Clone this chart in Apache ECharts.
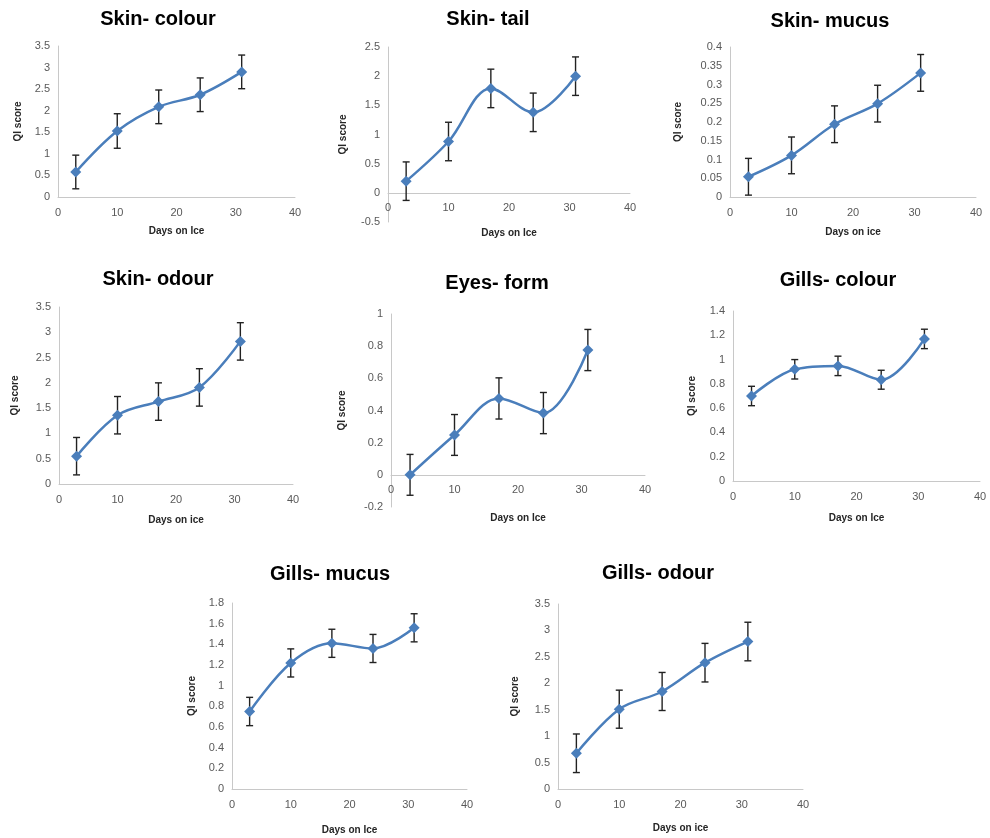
<!DOCTYPE html>
<html><head><meta charset="utf-8">
<script src="https://cdn.jsdelivr.net/npm/echarts@6/dist/echarts.min.js"></script>
<style>html,body{margin:0;padding:0;background:#fff}#c{width:990px;height:838px}</style>
</head><body><div id="c"></div>
<script>
const days = [3, 10, 17, 24, 31];

const skinColour = [0.58, 1.53, 2.09, 2.37, 2.90];
const skinColourErr = [0.39, 0.40, 0.39, 0.39, 0.39];
const skinTail = [0.20, 0.88, 1.79, 1.38, 2.00];
const skinTailErr = [0.33, 0.33, 0.33, 0.33, 0.33];
const skinMucus = [0.054, 0.111, 0.194, 0.249, 0.331];
const skinMucusErr = [0.049, 0.049, 0.049, 0.049, 0.049];
const skinOdour = [0.55, 1.36, 1.63, 1.91, 2.82];
const skinOdourErr = [0.37, 0.37, 0.37, 0.37, 0.37];
const eyesForm = [0.00, 0.248, 0.475, 0.384, 0.776];
const eyesFormErr = [0.127, 0.127, 0.128, 0.128, 0.128];
const gillsColour = [0.70, 0.92, 0.948, 0.834, 1.17];
const gillsColourErr = [0.08, 0.08, 0.08, 0.078, 0.08];
const gillsMucus = [0.75, 1.22, 1.41, 1.36, 1.56];
const gillsMucusErr = [0.137, 0.136, 0.136, 0.136, 0.136];
const gillsOdour = [0.676, 1.51, 1.845, 2.39, 2.79];
const gillsOdourErr = [0.365, 0.36, 0.36, 0.365, 0.365];

const titles = ['Skin- colour', 'Skin- tail', 'Skin- mucus', 'Skin- odour', 'Eyes- form', 'Gills- colour', 'Gills- mucus', 'Gills- odour'];
const xNames = ['Days on Ice', 'Days on Ice', 'Days on ice', 'Days on ice', 'Days on Ice', 'Days on Ice', 'Days on Ice', 'Days on ice'];
const yName = 'QI score';
const yMins = [0, -0.5, 0, 0, -0.2, 0, 0, 0];
const yMaxs = [3.5, 2.5, 0.4, 3.5, 1, 1.4, 1.8, 3.5];
const yIntervals = [0.5, 0.5, 0.05, 0.5, 0.2, 0.2, 0.2, 0.5];
const xMin = 0, xMax = 40, xInterval = 10;

const values = [skinColour, skinTail, skinMucus, skinOdour, eyesForm, gillsColour, gillsMucus, gillsOdour];
const errors = [skinColourErr, skinTailErr, skinMucusErr, skinOdourErr, eyesFormErr, gillsColourErr, gillsMucusErr, gillsOdourErr];

// layout (pixels)
const grids = [
  {left: 58, top: 46, width: 237, height: 151},
  {left: 388, top: 47, width: 242, height: 175},
  {left: 730, top: 47, width: 246, height: 150},
  {left: 59, top: 307, width: 234, height: 177},
  {left: 391, top: 314, width: 254, height: 193},
  {left: 733, top: 311, width: 247, height: 170},
  {left: 232, top: 603, width: 235, height: 186},
  {left: 558, top: 604, width: 245, height: 185}
];
const titlePos = [[153, 4], [483, 4], [825, 6], [153, 264], [492, 268], [833, 265], [325, 559], [653, 558]];
const xNameGaps = [29, 35, 30, 31, 38, 32, 36, 34];
const yNameGaps = [35, 40, 47, 39, 44, 36, 35, 38];

const LINE = '#4a7ebb';
const AX = '#c8c8c8';
const TXT = '#595959';
const FONT = '"Liberation Sans", Arial, sans-serif';

// x axis sits at y = 0 (Excel style): shift whole axis up from grid bottom
function zeroOffset(i) {
  if (yMins[i] >= 0) return 0;
  return -grids[i].height * (0 - yMins[i]) / (yMaxs[i] - yMins[i]);
}

const option = {
  animation: false,
  backgroundColor: '#ffffff',
  title: titles.map((t, i) => ({
    text: t, left: titlePos[i][0], top: titlePos[i][1], textAlign: 'center',
    textStyle: {fontFamily: FONT, fontSize: 20, fontWeight: 'bold', color: '#000'}
  })),
  grid: grids.map(g => Object.assign({containLabel: false}, g)),
  xAxis: grids.map((g, i) => ({
    type: 'value', gridIndex: i, min: xMin, max: xMax, interval: xInterval,
    offset: zeroOffset(i),
    name: xNames[i], nameLocation: 'middle', nameGap: xNameGaps[i],
    nameTextStyle: {fontFamily: FONT, fontSize: 10, fontWeight: 'bold', color: '#262626'},
    axisLine: {show: true, onZero: false, lineStyle: {color: AX, width: 1}},
    axisTick: {show: false},
    splitLine: {show: false},
    axisLabel: {fontFamily: FONT, fontSize: 11, color: TXT, margin: 10}
  })),
  yAxis: grids.map((g, i) => ({
    type: 'value', gridIndex: i, min: yMins[i], max: yMaxs[i], interval: yIntervals[i],
    name: yName, nameLocation: 'middle', nameGap: yNameGaps[i], nameRotate: 90,
    nameTextStyle: {fontFamily: FONT, fontSize: 10, fontWeight: 'bold', color: '#262626'},
    axisLine: {show: true, onZero: false, lineStyle: {color: AX, width: 1}},
    axisTick: {show: false},
    splitLine: {show: false},
    axisLabel: {fontFamily: FONT, fontSize: 11, color: TXT, margin: 8}
  })),
  series: []
};

values.forEach((vals, i) => {
  option.series.push({
    type: 'custom', xAxisIndex: i, yAxisIndex: i, z: 2,
    data: days.map((d, k) => [d, vals[k] - errors[i][k], vals[k] + errors[i][k]]),
    renderItem: function (params, api) {
      const lo = api.coord([api.value(0), api.value(1)]);
      const hi = api.coord([api.value(0), api.value(2)]);
      const w = 3.5;
      const st = {stroke: '#222', lineWidth: 1.4};
      return {type: 'group', children: [
        {type: 'line', shape: {x1: hi[0], y1: hi[1], x2: lo[0], y2: lo[1]}, style: st},
        {type: 'line', shape: {x1: hi[0] - w, y1: hi[1], x2: hi[0] + w, y2: hi[1]}, style: st},
        {type: 'line', shape: {x1: lo[0] - w, y1: lo[1], x2: lo[0] + w, y2: lo[1]}, style: st}
      ]};
    }
  });
  option.series.push({
    type: 'line', xAxisIndex: i, yAxisIndex: i, z: 3,
    data: days.map((d, k) => [d, vals[k]]),
    smooth: 0.35,
    symbol: 'diamond', symbolSize: 11,
    lineStyle: {color: LINE, width: 2.5},
    itemStyle: {color: LINE}
  });
});

const chart = echarts.init(document.getElementById('c'), null, {renderer: 'canvas'});
chart.setOption(option);
</script>
</body></html>
